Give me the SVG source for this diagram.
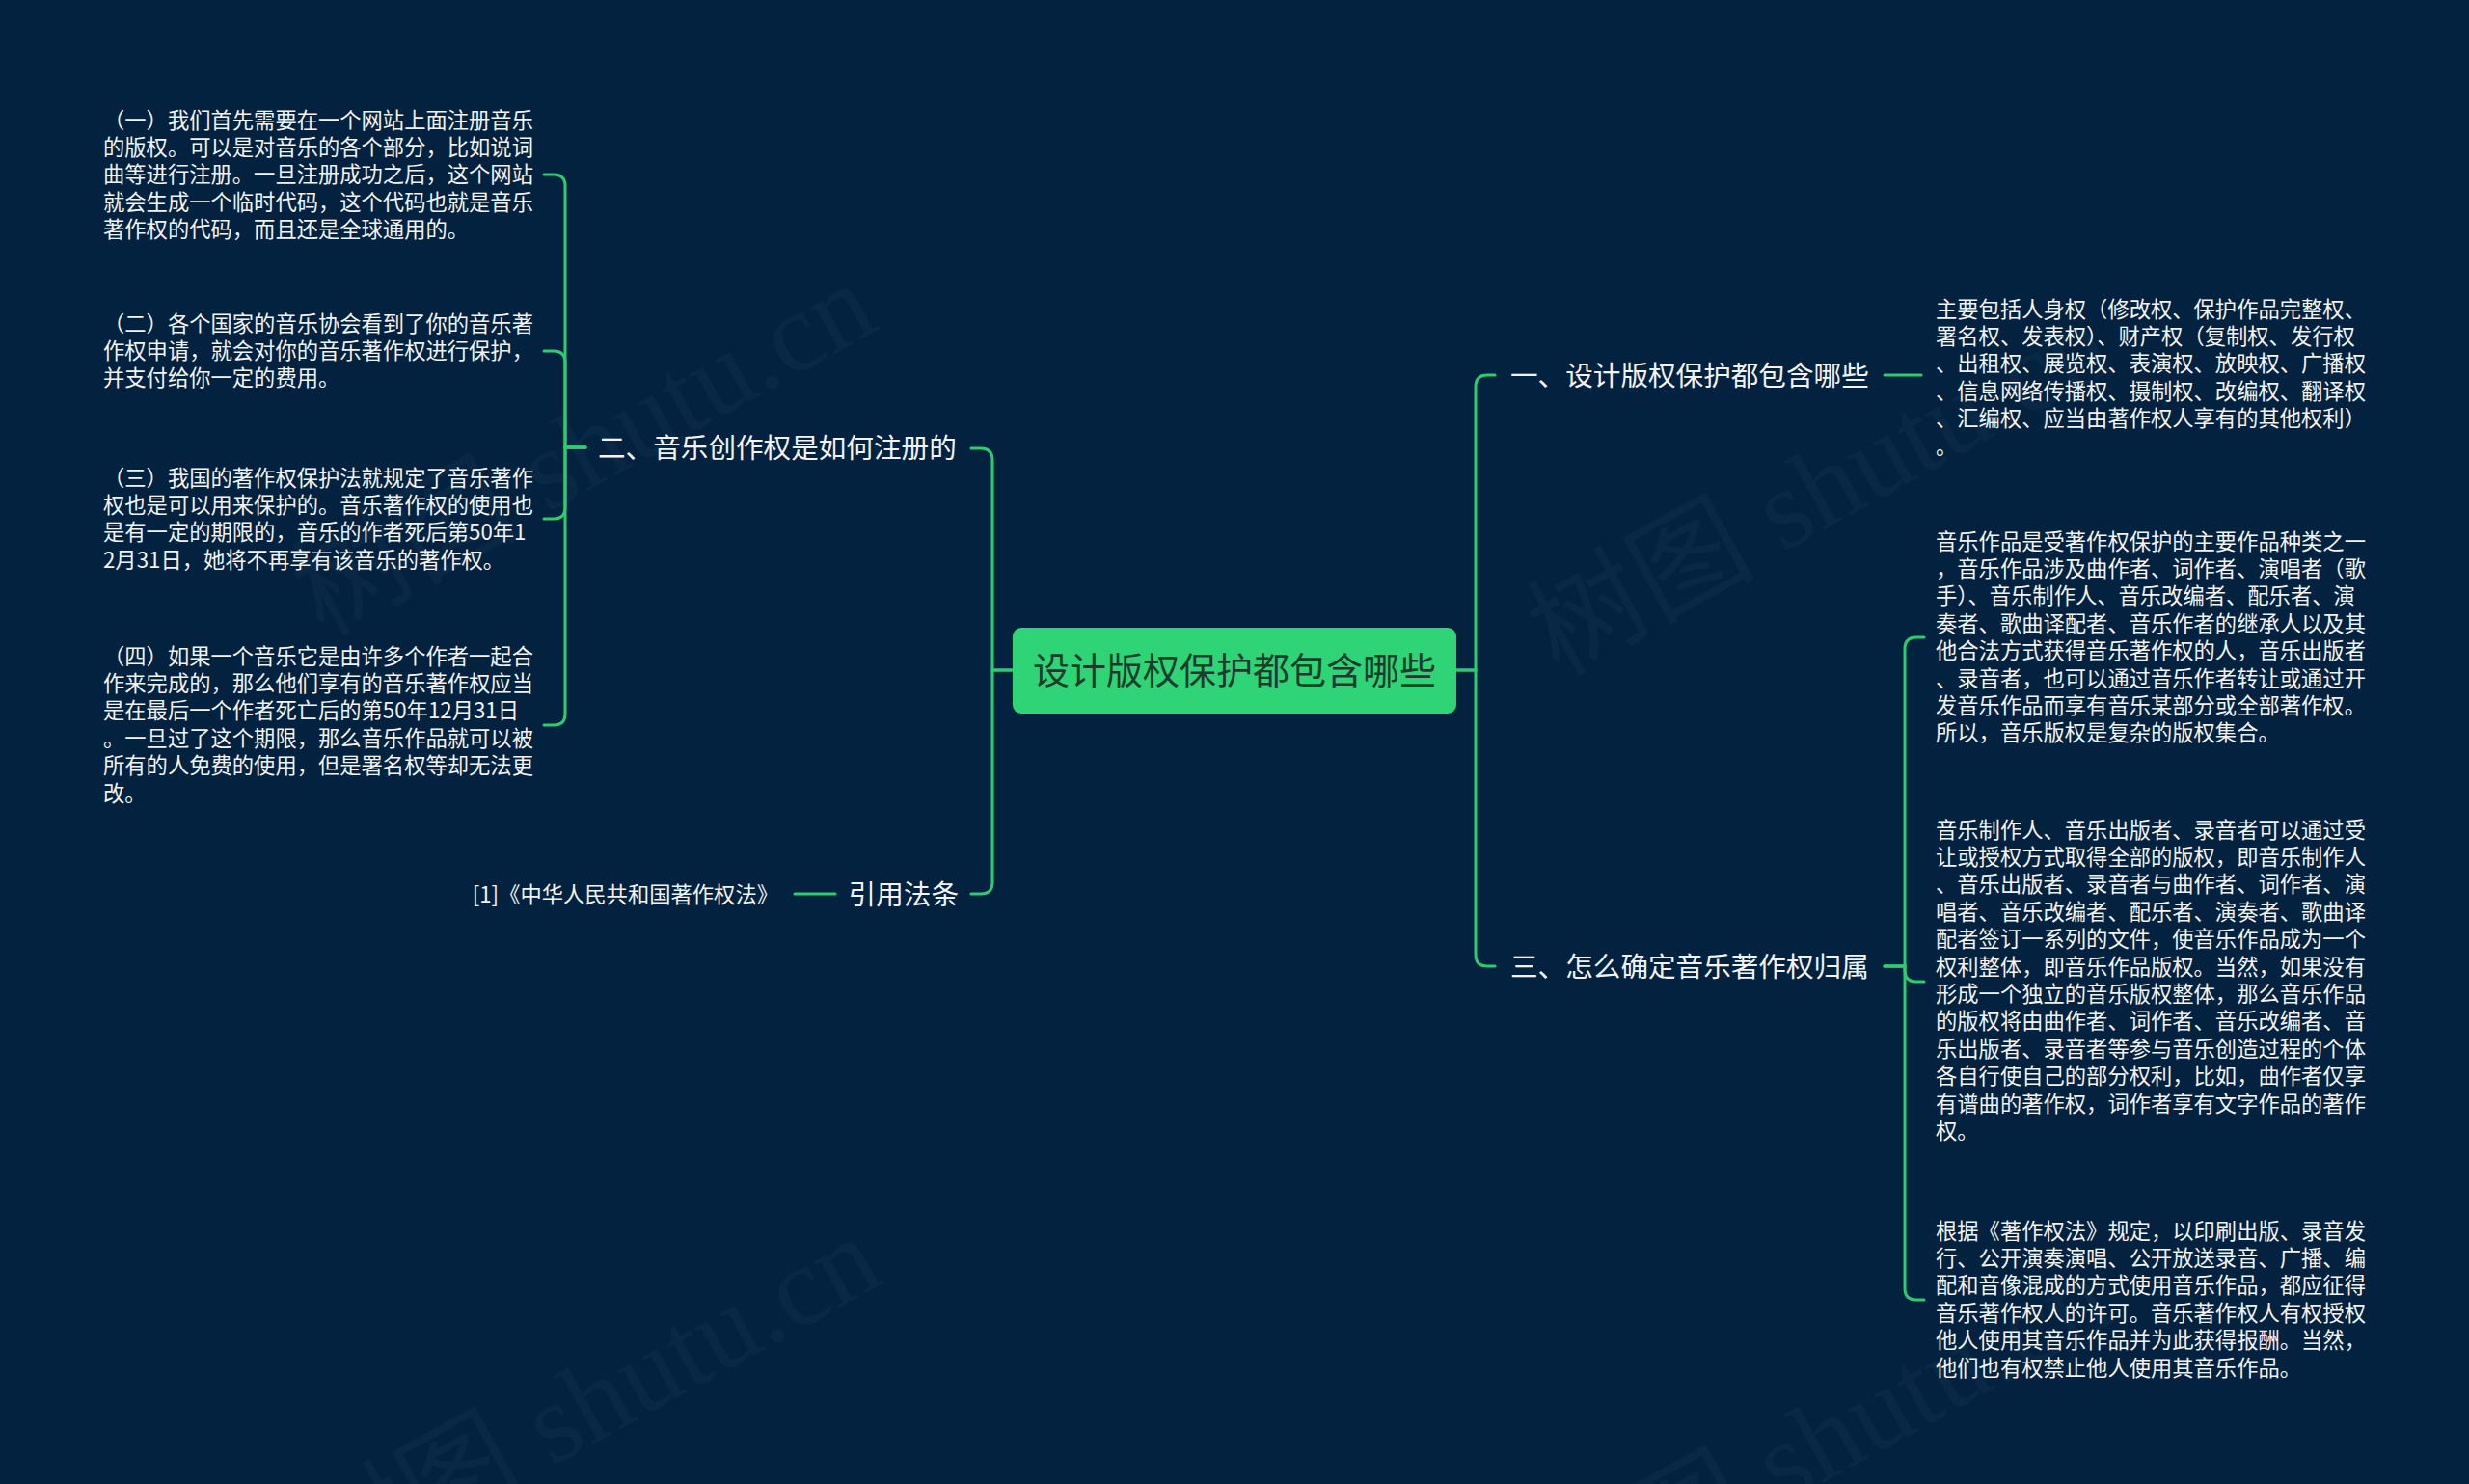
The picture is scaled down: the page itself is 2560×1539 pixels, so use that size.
<svg xmlns="http://www.w3.org/2000/svg" width="2560" height="1539" viewBox="0 0 2560 1539">
<style>
.bg{fill:#022240}
.wm{font-family:"Liberation Serif","Noto Sans CJK SC",serif;font-size:118px;fill:#ffffff;fill-opacity:0.03}
.con{fill:none;stroke:#2ecc71;stroke-width:3;stroke-linecap:round}
.root{fill:#2fd477}
.rootText{font-family:"Noto Sans CJK SC",sans-serif;font-size:38px;fill:#1c3d2c}
.branch{font-family:"Noto Sans CJK SC",sans-serif;font-size:28.6px;fill:#f2f2f2}
.leaf{font-family:"Noto Sans CJK SC",sans-serif;font-size:22.3px;fill:#f2f2f2}
</style>
<rect class="bg" x="0" y="0" width="2560" height="1539"/>
<g id="watermarks">
<text class="wm" transform="translate(335,661) rotate(-29)">树图 shutu.cn</text>
<text class="wm" transform="translate(1616,702) rotate(-29)">树图 shutu.cn</text>
<text class="wm" transform="translate(340,1650) rotate(-29)">树图 shutu.cn</text>
<text class="wm" transform="translate(1616,1690) rotate(-29)">树图 shutu.cn</text>
</g>
<g id="connectors">
<path class="con" d="M1050,695 H1029 V477 Q1029,465 1017,465 H1007"/>
<path class="con" d="M1050,695 H1029 V915 Q1029,927 1017,927 H1007"/>
<path class="con" d="M1510,695 H1530 V401 Q1530,389 1542,389 H1550"/>
<path class="con" d="M1510,695 H1530 V990 Q1530,1002 1542,1002 H1550"/>
<path class="con" d="M607,464 H586 V193 Q586,181 574,181 H564"/>
<path class="con" d="M607,464 H586 V376 Q586,364 574,364 H564"/>
<path class="con" d="M607,464 H586 V526 Q586,538 574,538 H564"/>
<path class="con" d="M607,464 H586 V740 Q586,752 574,752 H564"/>
<path class="con" d="M866,927 H824"/>
<path class="con" d="M1954,389 H1992"/>
<path class="con" d="M1954,1002 H1975 V673 Q1975,661 1987,661 H1995"/>
<path class="con" d="M1954,1002 H1975 V1006 Q1975,1018 1987,1018 H1995"/>
<path class="con" d="M1954,1002 H1975 V1336 Q1975,1348 1987,1348 H1995"/>
</g>
<g id="root">
<rect class="root" x="1050" y="651" width="460" height="89" rx="9"/>
<text class="rootText" x="1280" y="709" text-anchor="middle">设计版权保护都包含哪些</text>
</g>
<g id="b2">
<text class="branch" x="620" y="475">二、音乐创作权是如何注册的</text>
</g>
<g id="bref">
<text class="branch" x="994" y="938" text-anchor="end">引用法条</text>
</g>
<g id="b1">
<text class="branch" x="1566" y="400">一、设计版权保护都包含哪些</text>
</g>
<g id="b3">
<text class="branch" x="1566" y="1013">三、怎么确定音乐著作权归属</text>
</g>
<g id="ref1">
<text class="leaf" x="807" y="935.5" text-anchor="end">[1]《中华人民共和国著作权法》</text>
</g>
<g id="l1">
<text class="leaf" x="107" y="132.5"><tspan x="107">（一）我们首先需要在一个网站上面注册音乐</tspan><tspan x="107" dy="28.4">的版权。可以是对音乐的各个部分，比如说词</tspan><tspan x="107" dy="28.4">曲等进行注册。一旦注册成功之后，这个网站</tspan><tspan x="107" dy="28.4">就会生成一个临时代码，这个代码也就是音乐</tspan><tspan x="107" dy="28.4">著作权的代码，而且还是全球通用的。</tspan></text>
</g>
<g id="l2">
<text class="leaf" x="107" y="343.5"><tspan x="107">（二）各个国家的音乐协会看到了你的音乐著</tspan><tspan x="107" dy="28.4">作权申请，就会对你的音乐著作权进行保护，</tspan><tspan x="107" dy="28.4">并支付给你一定的费用。</tspan></text>
</g>
<g id="l3">
<text class="leaf" x="107" y="503.5"><tspan x="107">（三）我国的著作权保护法就规定了音乐著作</tspan><tspan x="107" dy="28.4">权也是可以用来保护的。音乐著作权的使用也</tspan><tspan x="107" dy="28.4">是有一定的期限的，音乐的作者死后第50年1</tspan><tspan x="107" dy="28.4">2月31日，她将不再享有该音乐的著作权。</tspan></text>
</g>
<g id="l4">
<text class="leaf" x="107" y="688.5"><tspan x="107">（四）如果一个音乐它是由许多个作者一起合</tspan><tspan x="107" dy="28.4">作来完成的，那么他们享有的音乐著作权应当</tspan><tspan x="107" dy="28.4">是在最后一个作者死亡后的第50年12月31日</tspan><tspan x="107" dy="28.4">。一旦过了这个期限，那么音乐作品就可以被</tspan><tspan x="107" dy="28.4">所有的人免费的使用，但是署名权等却无法更</tspan><tspan x="107" dy="28.4">改。</tspan></text>
</g>
<g id="r1">
<text class="leaf" x="2007" y="328.5"><tspan x="2007">主要包括人身权（修改权、保护作品完整权、</tspan><tspan x="2007" dy="28.4">署名权、发表权）、财产权（复制权、发行权</tspan><tspan x="2007" dy="28.4">、出租权、展览权、表演权、放映权、广播权</tspan><tspan x="2007" dy="28.4">、信息网络传播权、摄制权、改编权、翻译权</tspan><tspan x="2007" dy="28.4">、汇编权、应当由著作权人享有的其他权利）</tspan><tspan x="2007" dy="28.4">。</tspan></text>
</g>
<g id="r2">
<text class="leaf" x="2007" y="569.5"><tspan x="2007">音乐作品是受著作权保护的主要作品种类之一</tspan><tspan x="2007" dy="28.4">，音乐作品涉及曲作者、词作者、演唱者（歌</tspan><tspan x="2007" dy="28.4">手）、音乐制作人、音乐改编者、配乐者、演</tspan><tspan x="2007" dy="28.4">奏者、歌曲译配者、音乐作者的继承人以及其</tspan><tspan x="2007" dy="28.4">他合法方式获得音乐著作权的人，音乐出版者</tspan><tspan x="2007" dy="28.4">、录音者，也可以通过音乐作者转让或通过开</tspan><tspan x="2007" dy="28.4">发音乐作品而享有音乐某部分或全部著作权。</tspan><tspan x="2007" dy="28.4">所以，音乐版权是复杂的版权集合。</tspan></text>
</g>
<g id="r3">
<text class="leaf" x="2007" y="868.5"><tspan x="2007">音乐制作人、音乐出版者、录音者可以通过受</tspan><tspan x="2007" dy="28.4">让或授权方式取得全部的版权，即音乐制作人</tspan><tspan x="2007" dy="28.4">、音乐出版者、录音者与曲作者、词作者、演</tspan><tspan x="2007" dy="28.4">唱者、音乐改编者、配乐者、演奏者、歌曲译</tspan><tspan x="2007" dy="28.4">配者签订一系列的文件，使音乐作品成为一个</tspan><tspan x="2007" dy="28.4">权利整体，即音乐作品版权。当然，如果没有</tspan><tspan x="2007" dy="28.4">形成一个独立的音乐版权整体，那么音乐作品</tspan><tspan x="2007" dy="28.4">的版权将由曲作者、词作者、音乐改编者、音</tspan><tspan x="2007" dy="28.4">乐出版者、录音者等参与音乐创造过程的个体</tspan><tspan x="2007" dy="28.4">各自行使自己的部分权利，比如，曲作者仅享</tspan><tspan x="2007" dy="28.4">有谱曲的著作权，词作者享有文字作品的著作</tspan><tspan x="2007" dy="28.4">权。</tspan></text>
</g>
<g id="r4">
<text class="leaf" x="2007" y="1284.5"><tspan x="2007">根据《著作权法》规定，以印刷出版、录音发</tspan><tspan x="2007" dy="28.4">行、公开演奏演唱、公开放送录音、广播、编</tspan><tspan x="2007" dy="28.4">配和音像混成的方式使用音乐作品，都应征得</tspan><tspan x="2007" dy="28.4">音乐著作权人的许可。音乐著作权人有权授权</tspan><tspan x="2007" dy="28.4">他人使用其音乐作品并为此获得报酬。当然，</tspan><tspan x="2007" dy="28.4">他们也有权禁止他人使用其音乐作品。</tspan></text>
</g>
</svg>
